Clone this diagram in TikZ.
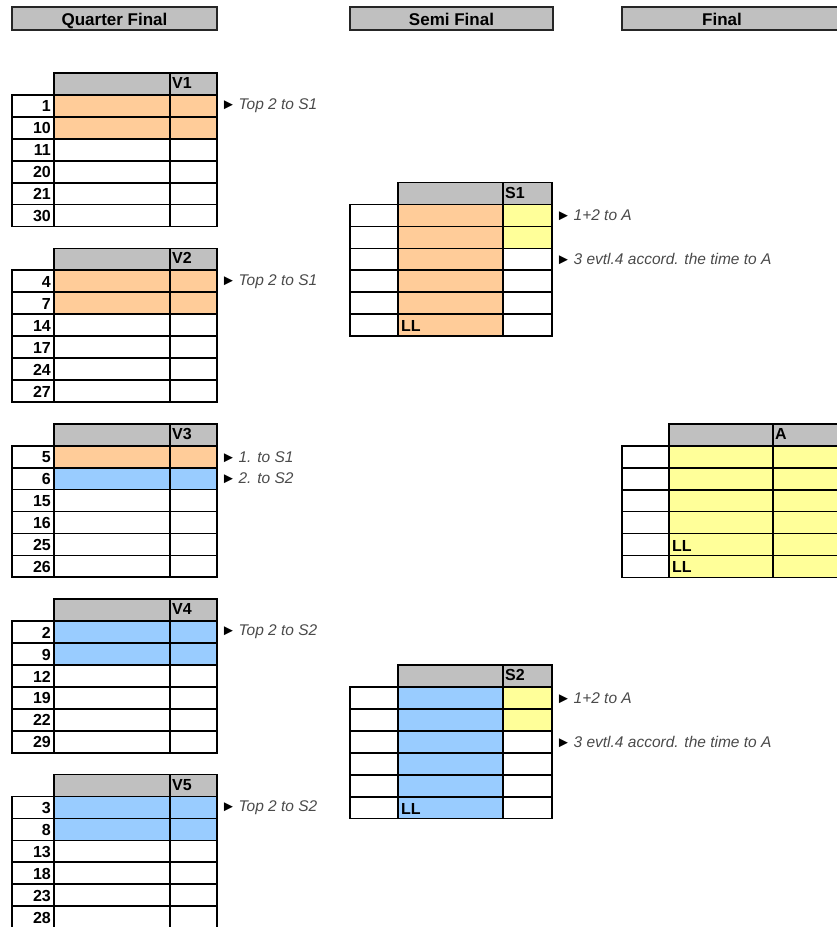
\documentclass[tikz,border=0pt]{standalone}
\usepackage{fontspec}
\setmainfont{Liberation Sans}
\usepackage{tikz}
\usetikzlibrary{positioning}

\definecolor{hdgray}{HTML}{C0C0C0}
\definecolor{qorange}{HTML}{FFCC99}
\definecolor{qblue}{HTML}{99CCFF}
\definecolor{qyellow}{HTML}{FFFF99}
\definecolor{notegray}{HTML}{4A4A4A}

\tikzstyle{cell} = [draw=black,line width=1.7pt]
\tikzstyle{stage} = [draw=black!85,line width=2.2pt,fill=hdgray]
\tikzstyle{stagetext} = [font=\bfseries\fontsize{17}{17}\selectfont,text height=14pt,text depth=0pt]
\tikzstyle{num} = [anchor=east,inner sep=1pt,font=\bfseries\fontsize{16}{16}\selectfont]
\tikzstyle{grp} = [anchor=west,inner sep=1pt,font=\bfseries\fontsize{16}{16}\selectfont]
\tikzstyle{lucky} = [anchor=west,inner sep=1pt,font=\bfseries\fontsize{16}{16}\selectfont]
\tikzstyle{note} = [anchor=west,inner sep=1pt,text=notegray,font=\itshape\fontsize{15.5}{15.5}\selectfont]

\newcommand{\tri}{\textcolor{black}{\fontsize{15}{15}\selectfont\upshape ►}\,}

% quarter final group: top, name, start numbers, colour 1st, colour 2nd
\newcommand{\qfblock}[5]{%
  \draw[cell,fill=hdgray] (54,#1) rectangle (217,#1+21.93);
  \draw[cell] (170,#1) -- (170,#1+21.93);
  \node[grp] (#2) at (171,#1+10) {#2};
  \fill[#4] (54,#1+21.93) rectangle (217,#1+43.86);
  \fill[#5] (54,#1+43.86) rectangle (217,#1+65.79);
  \foreach \n [count=\i] in {#3} {
    \draw[cell] (12,#1+\i*21.93) rectangle (54,#1+\i*21.93+21.93);
    \draw[cell] (54,#1+\i*21.93) rectangle (170,#1+\i*21.93+21.93);
    \draw[cell] (170,#1+\i*21.93) rectangle (217,#1+\i*21.93+21.93);
    \node[num] (#2-\i) at (52,#1+\i*21.93+11.5) {\n};
    \coordinate (#2-r\i) at (217,#1+\i*21.93+10.96);
  }
}

% semi final group: top, name, colour
\newcommand{\sfblock}[3]{%
  \draw[cell,fill=hdgray] (398,#1) rectangle (552,#1+21.93);
  \draw[cell] (503,#1) -- (503,#1+21.93);
  \node[grp] (#2) at (504,#1+10) {#2};
  \fill[#3] (398,#1+21.93) rectangle (503,#1+153.5);
  \fill[qyellow] (503,#1+21.93) rectangle (552,#1+65.79);
  \foreach \i in {1,...,6} {
    \draw[cell] (350,#1+\i*21.93) rectangle (398,#1+\i*21.93+21.93);
    \draw[cell] (398,#1+\i*21.93) rectangle (503,#1+\i*21.93+21.93);
    \draw[cell] (503,#1+\i*21.93) rectangle (552,#1+\i*21.93+21.93);
    \coordinate (#2-r\i) at (552,#1+\i*21.93+10.96);
  }
  \node[lucky] (#2-ll) at (400,#1+6*21.93+12) {LL};
}

\begin{document}
\begin{tikzpicture}[x=1pt,y=-1pt]
\useasboundingbox (0,0) rectangle (837,927);
\clip (0,0) rectangle (837,927);

% stages
\node[stage,stagetext,minimum width=205,minimum height=23,inner sep=0pt] (qf) at (114.5,18.5) {Quarter Final};
\node[stage,stagetext,minimum width=203,minimum height=23,inner sep=0pt] (sf) at (451.5,18.5) {Semi Final};
\draw[stage] (622,7) rectangle (860,30);
\node[stagetext] (fin) at (722,18.5) {Final};

% quarter final
\qfblock{73}{V1}{1,10,11,20,21,30}{qorange}{qorange}
\qfblock{248.4}{V2}{4,7,14,17,24,27}{qorange}{qorange}
\qfblock{423.8}{V3}{5,6,15,16,25,26}{qorange}{qblue}
\qfblock{599.2}{V4}{2,9,12,19,22,29}{qblue}{qblue}
\qfblock{774.6}{V5}{3,8,13,18,23,28}{qblue}{qblue}

\node[note,right=3pt of V1-r1] (n1) {\tri Top 2 to S1};
\node[note,right=3pt of V2-r1] (n2) {\tri Top 2 to S1};
\node[note,right=3pt of V3-r1] (n3a) {\tri 1. to S1};
\node[note,right=3pt of V3-r2] (n3b) {\tri 2. to S2};
\node[note,right=3pt of V4-r1] (n4) {\tri Top 2 to S2};
\node[note,right=3pt of V5-r1] (n5) {\tri Top 2 to S2};

% semi final
\sfblock{182.6}{S1}{qorange}
\sfblock{665.1}{S2}{qblue}

\node[note,right=3pt of S1-r1] (s1a) {\tri 1+2 to A};
\node[note,right=3pt of S1-r3] (s1b) {\tri 3 evtl.4 accord. the time to A};
\node[note,right=3pt of S2-r1] (s2a) {\tri 1+2 to A};
\node[note,right=3pt of S2-r3] (s2b) {\tri 3 evtl.4 accord. the time to A};

% final
\draw[cell,fill=hdgray] (669,423.9) rectangle (880,445.8);
\draw[cell] (773,423.9) -- (773,445.8);
\node[grp] (A) at (774,433.9) {A};
\fill[qyellow] (669,445.8) rectangle (880,577.4);
\foreach \i in {1,...,6} {
  \draw[cell] (622,423.9+\i*21.93) rectangle (669,423.9+\i*21.93+21.93);
  \draw[cell] (669,423.9+\i*21.93) rectangle (773,423.9+\i*21.93+21.93);
  \draw[cell] (773,423.9+\i*21.93) rectangle (880,423.9+\i*21.93+21.93);
}
\node[lucky] (A-ll5) at (671,423.9+5*21.93+12) {LL};
\node[lucky] (A-ll6) at (671,423.9+6*21.93+12) {LL};

\end{tikzpicture}
\end{document}
